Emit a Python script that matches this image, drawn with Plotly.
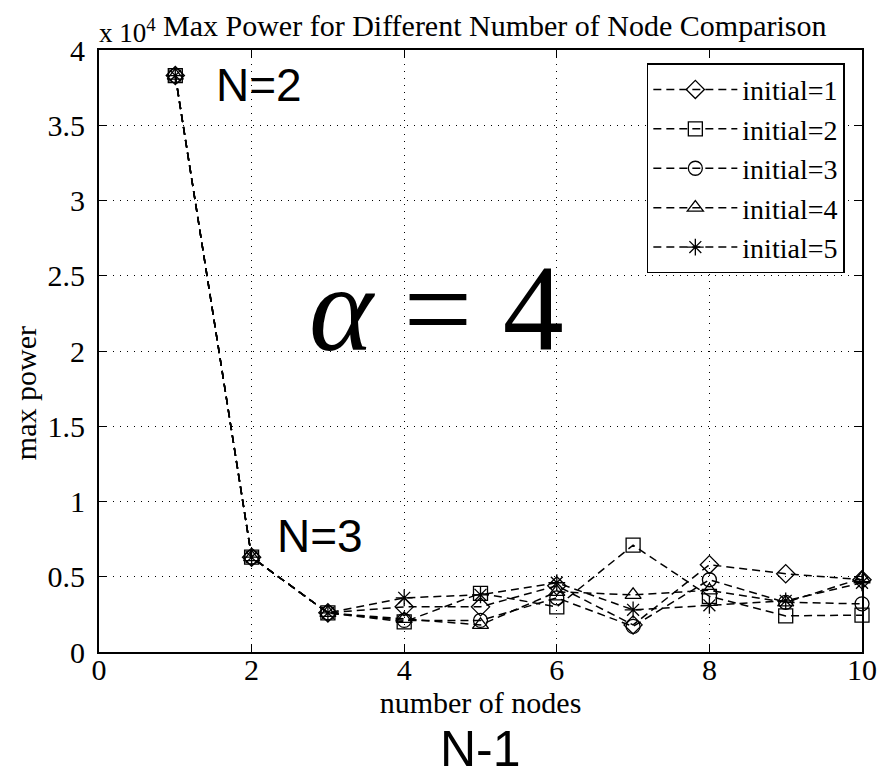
import plotly.graph_objects as go

nodes = [1, 2, 3, 4, 5, 6, 7, 8, 9, 10]
initial_1 = [38300, 6300, 2600, 3000, 3000, 4400, 1800, 5800, 5200, 4800]
initial_2 = [38300, 6300, 2600, 2000, 3900, 3000, 7100, 3700, 2400, 2450]
initial_3 = [38300, 6300, 2600, 2100, 2100, 3600, 1700, 4800, 3300, 3200]
initial_4 = [38300, 6300, 2600, 2200, 1800, 4000, 3800, 4100, 3300, 4900]
initial_5 = [38300, 6300, 2600, 3600, 3800, 4600, 2800, 3100, 3400, 4600]

series_names = ["initial=1", "initial=2", "initial=3", "initial=4", "initial=5"]
series_values = [initial_1, initial_2, initial_3, initial_4, initial_5]
symbols = ["diamond-open", "square-open", "circle-open", "triangle-up-open", "asterisk-open"]

y_tick_vals = [0, 5000, 10000, 15000, 20000, 25000, 30000, 35000, 40000]
y_tick_text = ["0", "0.5", "1", "1.5", "2", "2.5", "3", "3.5", "4"]
x_tick_vals = [0, 2, 4, 6, 8, 10]

SERIF = "Liberation Serif, Times New Roman, serif"
SANS = "Liberation Sans, Arial, sans-serif"

fig = go.Figure()
for name, vals, sym in zip(series_names, series_values, symbols):
    fig.add_trace(go.Scatter(
        x=nodes, y=vals, name=name, mode="lines+markers",
        line=dict(color="black", width=1.5, dash="8px,5px"),
        marker=dict(symbol=sym, size=14, color="black",
                    line=dict(color="black", width=1.3)),
        cliponaxis=False,
    ))

axis_common = dict(
    showline=True, linecolor="black", linewidth=2, mirror="ticks",
    ticks="inside", ticklen=8, tickwidth=1, tickcolor="black",
    showgrid=True, gridcolor="black", gridwidth=1, griddash="1px,6px",
    zeroline=False, tickfont=dict(family=SERIF, size=30, color="black"),
)

fig.update_xaxes(range=[0, 10], tickvals=x_tick_vals, ticklabelstandoff=-10,
                 title=dict(text="number of nodes", font=dict(family=SERIF, size=30, color="black"), standoff=0),
                 **axis_common)
fig.update_yaxes(range=[0, 40000], tickvals=y_tick_vals, ticktext=y_tick_text,
                 ticklabelstandoff=6, **axis_common)

# y-axis title placed as in the reference (slightly below the plot centre)
fig.add_annotation(xref="paper", yref="paper", x=-0.097, y=0.43, xanchor="center", yanchor="middle",
                   text="max power", textangle=-90, showarrow=False,
                   font=dict(family=SERIF, size=30, color="black"))

fig.add_annotation(xref="paper", yref="paper", x=-0.003, y=1.0, xanchor="left", yanchor="bottom",
                   text="x 10<sup>4</sup>", showarrow=False,
                   font=dict(family=SERIF, size=27, color="black"))
fig.add_annotation(xref="paper", yref="paper", x=0.518, y=1.0, xanchor="center", yanchor="bottom",
                   yshift=6,
                   text="Max Power for Different Number of Node Comparison", showarrow=False,
                   font=dict(family=SERIF, size=30, color="black"))
fig.add_annotation(xref="x", yref="y", x=2.1, y=37700, text="N=2", showarrow=False,
                   font=dict(family=SANS, size=46, color="black"))
fig.add_annotation(xref="x", yref="y", x=2.9, y=7700, text="N=3", showarrow=False,
                   font=dict(family=SANS, size=46, color="black"))
fig.add_annotation(xref="x", yref="y", x=4.42, y=22800, text="<i>α</i> = 4", showarrow=False,
                   font=dict(family=SERIF, size=122, color="black"))
fig.add_annotation(xref="paper", yref="paper", x=0.5, y=-0.112, xanchor="center", yanchor="top",
                   text="N-1", showarrow=False,
                   font=dict(family=SANS, size=50, color="black"))

fig.update_layout(
    width=895, height=778,
    margin=dict(l=99, r=33, t=50, b=126),
    paper_bgcolor="white", plot_bgcolor="white",
    font=dict(family=SERIF, color="black"),
    showlegend=True,
    legend=dict(x=0.718, y=0.978, xanchor="left", yanchor="top",
                bordercolor="black", borderwidth=1.5, bgcolor="white",
                itemwidth=84,
                font=dict(family=SERIF, size=28, color="black")),
)

fig.write_html("out.html")
